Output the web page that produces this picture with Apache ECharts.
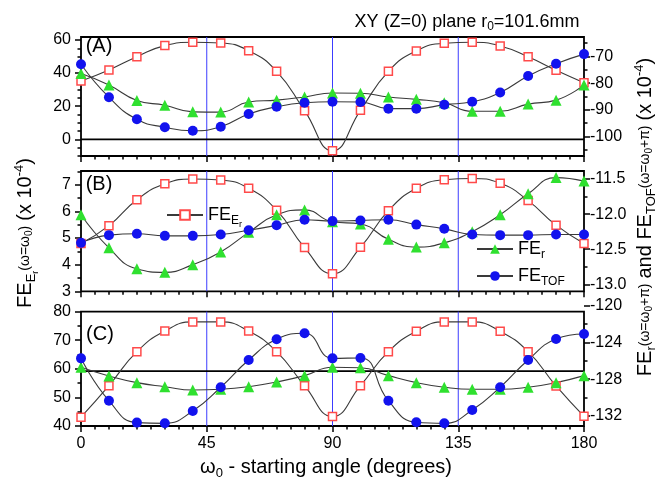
<!DOCTYPE html>
<html><head><meta charset="utf-8">
<script src="https://cdn.jsdelivr.net/npm/echarts@6/dist/echarts.min.js"></script>
<style>html,body{margin:0;padding:0;background:#fff}#c{width:658px;height:477px}</style>
</head><body><div id="c"></div>
<script>
// ---------- data ----------
const angles = [0,10,20,30,40,50,60,70,80,90,100,110,120,130,140,150,160,170,180];
const xTickLabels = [0,45,90,135,180];
const vLines = [45,90,135];

// Panel A
const A_FEEr  = [35.2,41.9,49.9,56.6,58.6,58.2,53.5,41.1,17.3,-6.9,17.5,41.1,53.4,58.0,58.6,56.4,49.9,41.7,34.2];
const A_FEr   = [-76.4,-80.7,-86.5,-88.3,-90.8,-90.9,-87.1,-86.4,-85.2,-83.7,-83.8,-85.2,-86.1,-87.4,-90.6,-90.6,-87.9,-86.4,-80.7];
const A_FETOF = [-72.9,-85.3,-93.6,-96.6,-97.9,-96.4,-91.6,-88.9,-87.4,-87.0,-87.1,-89.6,-89.6,-88.1,-87.0,-83.5,-77.3,-72.7,-69.1];
const A_leftTicks = [0,20,40,60];
const A_leftMinor = [-10,-5,5,10,15,25,30,35,45,50,55];
const A_rightTicks = [-100,-90,-80,-70];
const A_rightMinor = [-105,-95,-85,-75,-65];
const A_hLine = 0;

// Panel B
const B_FEEr  = [4.79,5.46,6.43,7.03,7.21,7.17,6.86,6.04,4.64,3.66,4.65,6.02,6.86,7.18,7.23,7.05,6.40,5.48,4.79];
const B_FEr   = [-12.01,-12.48,-12.78,-12.83,-12.72,-12.54,-12.26,-12.01,-11.94,-12.11,-12.14,-12.36,-12.47,-12.41,-12.25,-12.01,-11.71,-11.48,-11.53];
const B_FETOF = [-12.41,-12.30,-12.28,-12.31,-12.31,-12.29,-12.23,-12.16,-12.08,-12.10,-12.09,-12.08,-12.15,-12.21,-12.29,-12.30,-12.30,-12.29,-12.29];
const B_leftTicks = [3,4,5,6,7];
const B_leftMinor = [3.5,4.5,5.5,6.5,7.5];
const B_rightTicks = [-13.0,-12.5,-12.0,-11.5];
const B_rightMinor = [-12.75,-12.25,-11.75];

// Panel C
const C_FEEr  = [43.1,54.1,66.0,73.2,76.4,76.4,73.2,66.0,54.1,43.3,54.1,66.0,73.1,76.4,76.4,73.1,66.0,54.0,43.4];
const C_FEr   = [-126.71,-127.66,-128.38,-128.82,-129.18,-129.10,-128.82,-128.31,-127.62,-126.71,-126.76,-127.62,-128.38,-128.88,-129.10,-129.10,-128.88,-128.38,-127.62];
const C_FETOF = [-125.74,-130.34,-132.72,-132.80,-131.46,-128.88,-125.92,-123.67,-123.02,-125.74,-125.70,-130.34,-132.69,-132.80,-131.35,-128.88,-125.92,-123.64,-123.10];
const C_leftTicks = [40,50,60,70,80];
const C_leftMinor = [45,55,65,75];
const C_rightTicks = [-132,-128,-124,-120];
const C_rightMinor = [-130,-126,-122];
const C_hLine = 59.2;

// ---------- styling ----------
const FONT = 'Liberation Sans, Arial, sans-serif';
const RED = '#ff4a4a', GREEN = '#2fe02f', BLUE = '#1212ee', VBLUE = '#3c3cff';
const tickStyle = {color:'#000', width:1.5};

const grids = [
  {left:81, top:37, width:503, height:119},
  {left:81, top:171, width:503, height:120.3},
  {left:81, top:311.6, width:503, height:114.4},
  {left:81, top:305.5, width:503, height:120.5, show:false}
].map((g,i)=>Object.assign({show:i<3, borderColor:'#000', borderWidth:1.8, backgroundColor:'transparent'}, g));

function xAx(gi, labels, hidden) {
  return {type:'value', gridIndex:gi, min:0, max:180, interval:45, position:'bottom', show:!hidden,
    splitLine:{show:false}, minorSplitLine:{show:false}, axisPointer:{show:false},
    axisLine:{show:false, onZero:false},
    axisTick:{show:true, length:6, lineStyle:tickStyle},
    minorTick:{show:true, splitNumber:9, length:3.5, lineStyle:tickStyle},
    axisLabel:{show:labels, customValues:xTickLabels, margin:10, color:'#000', fontFamily:FONT, fontSize:16}};
}
const xAxes = [xAx(0,false), xAx(1,false), xAx(2,true), xAx(3,false,true)];

const yAxes = [];
const yRange = [];
function addY(gi, pos, min, max, major, minor, fmt) {
  const idx = yAxes.length;
  yAxes.push({type:'value', gridIndex:gi, position:pos, min, max, splitLine:{show:false},
    axisLine:{show:false, onZero:false},
    axisTick:{show:true, length:6, customValues:major, lineStyle:tickStyle},
    axisLabel:{show:true, customValues:major, margin:pos==='left'?10:6, formatter:fmt,
      color:'#000', fontFamily:FONT, fontSize:16}});
  yAxes.push({type:'value', gridIndex:gi, position:pos, min, max, splitLine:{show:false},
    axisLine:{show:false, onZero:false},
    axisTick:{show:true, length:3.5, customValues:minor, lineStyle:tickStyle},
    axisLabel:{show:false}});
  yRange[idx] = [min, max];
  return idx;
}
const yA_L = addY(0,'left',-10.1,61.8,A_leftTicks,A_leftMinor);
const yA_R = addY(0,'right',-107.4,-62.67,A_rightTicks,A_rightMinor);
const yB_L = addY(1,'left',3,7.51,B_leftTicks,B_leftMinor);
const yB_R = addY(1,'right',-13.1,-11.386,B_rightTicks,B_rightMinor, v=>v.toFixed(1));
const yC_L = addY(2,'left',40,80,C_leftTicks,C_leftMinor);
const yC_R = addY(3,'right',-133.09,-120,C_rightTicks,[]);
yAxes.push({type:'value', gridIndex:2, position:'right', min:-133.09, max:-120.66, splitLine:{show:false},
  axisLine:{show:false,onZero:false}, axisTick:{show:true,length:3.5,customValues:C_rightMinor,lineStyle:tickStyle},
  axisLabel:{show:false}});

const pairs = vals => angles.map((a,i)=>[a, vals[i]]);
const kinds = {
  FE_Er:  {symbol:'rect', symbolSize:8, itemStyle:{color:'#fff', borderColor:RED, borderWidth:1.5}},
  FE_r:   {symbol:'triangle', symbolSize:11, itemStyle:{color:GREEN, borderWidth:0}},
  FE_TOF: {symbol:'circle', symbolSize:10, itemStyle:{color:BLUE, borderWidth:0}}
};
function ser(name, xi, yi, vals) {
  return Object.assign({type:'line', name, xAxisIndex:xi, yAxisIndex:yi, data:pairs(vals),
    smooth:0.5, showAllSymbol:true, animation:false, z:3,
    lineStyle:{color:'#3a3a3a', width:1.1}, emphasis:{disabled:true}}, JSON.parse(JSON.stringify(kinds[name])));
}
// reference lines drawn as plain 2-point line series spanning the axis ranges
function refLines(xi, yi, hVal) {
  const out = [];
  const [lo, hi] = yRange[yi];
  vLines.forEach(v => out.push({type:'line', xAxisIndex:xi, yAxisIndex:yi, data:[[v, lo],[v, hi]],
    symbol:'none', silent:true, z:1, animation:false, lineStyle:{color:VBLUE, width:1}, emphasis:{disabled:true}}));
  if (hVal !== undefined) out.push({type:'line', xAxisIndex:xi, yAxisIndex:yi, data:[[0, hVal],[180, hVal]],
    symbol:'none', silent:true, z:2, animation:false, lineStyle:{color:'#000', width:1.8}, emphasis:{disabled:true}});
  return out;
}

const series = [].concat(
  refLines(0,yA_L,A_hLine), refLines(1,yB_L), refLines(2,yC_L,C_hLine),
  [
  ser('FE_Er',0,yA_L,A_FEEr),
  ser('FE_r',0,yA_R,A_FEr),
  ser('FE_TOF',0,yA_R,A_FETOF),
  ser('FE_Er',1,yB_L,B_FEEr),
  ser('FE_r',1,yB_R,B_FEr),
  ser('FE_TOF',1,yB_R,B_FETOF),
  ser('FE_Er',2,yC_L,C_FEEr),
  ser('FE_r',3,yC_R,C_FEr),
  ser('FE_TOF',3,yC_R,C_FETOF)
  ]);

const rich = {
  b:{fontSize:18, fontFamily:FONT, color:'#000'},
  s:{fontSize:12, fontFamily:FONT, color:'#000', padding:[11,0,0,0]},
  ss:{fontSize:9, fontFamily:FONT, color:'#000', padding:[20,0,0,0]}
};
const legendNames = {FE_Er:'{b|FE}{s|E}{ss|r}', FE_r:'{b|FE}{s|r}', FE_TOF:'{b|FE}{s|TOF}'};
function leg(name, left, top) {
  return {data:[name], left, top, orient:'vertical', selectedMode:false, itemWidth:36, itemHeight:12, itemGap:0,
    formatter:n=>legendNames[n], textStyle:{rich, color:'#000'}};
}

const tr = {
  b:{fontSize:20, fontFamily:FONT, fill:'#000'},
  m:{fontSize:14, fontFamily:FONT, fill:'#000'},
  s:{fontSize:13, fontFamily:FONT, fill:'#000', padding:[12,0,0,0]},
  ss:{fontSize:9, fontFamily:FONT, fill:'#000', padding:[22,0,0,0]},
  ms:{fontSize:10, fontFamily:FONT, fill:'#000', padding:[9,0,0,0]},
  sup:{fontSize:13, fontFamily:FONT, fill:'#000', padding:[0,0,12,0]},
  t:{fontSize:18, fontFamily:FONT, fill:'#000'},
  ts:{fontSize:12, fontFamily:FONT, fill:'#000', padding:[10,0,0,0]},
  p:{fontSize:20, fontFamily:FONT, fill:'#000'}
};
function txt(x, y, text, opts) {
  return Object.assign({type:'text', x, y, silent:true,
    style:{text, rich:tr, align:'center', verticalAlign:'middle', fill:'#000', fontFamily:FONT, fontSize:18}}, opts||{});
}
const graphics = [
  txt(467, 22, '{t|XY (Z=0) plane r}{ts|0}{t|=101.6mm}'),
  txt(99, 46, '{p|(A)}'),
  txt(99, 184, '{p|(B)}'),
  txt(100, 334, '{p|(C)}'),
  txt(326, 467, '{b|ω}{s|0}{b| - starting angle (degrees)}'),
  txt(25, 233, '{b|FE}{s|E}{ss|r}{m|(ω=ω}{ms|0}{m|)} {b|(x 10}{sup|-4}{b|)}', {rotation:Math.PI/2}),
  txt(645, 217, '{b|FE}{s|r}{m|(ω=ω}{ms|0}{m|+π)} {b|and FE}{s|TOF}{m|(ω=ω}{ms|0}{m|+π)} {b|(x 10}{sup|-4}{b|)}', {rotation:Math.PI/2})
];

const chart = echarts.init(document.getElementById('c'), null, {renderer:'canvas'});
chart.setOption({
  animation:false,
  backgroundColor:'#fff',
  grid:grids, xAxis:xAxes, yAxis:yAxes, series,
  legend:[leg('FE_Er',161,201), leg('FE_r',471,235), leg('FE_TOF',471,262)],
  graphic:graphics
});
</script></body></html>
